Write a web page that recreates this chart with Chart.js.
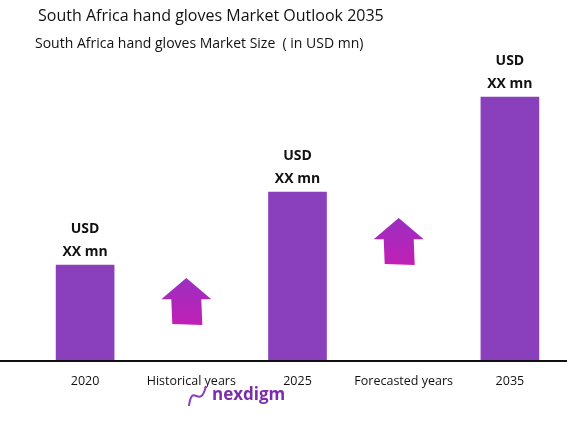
<!DOCTYPE html>
<html><head><meta charset="utf-8">
<script src="https://cdn.jsdelivr.net/npm/chart.js@4/dist/chart.umd.min.js"></script>
<style>
html,body{margin:0;padding:0;background:#fff;}
#wrap{position:relative;width:567px;height:426px;}
.t{position:absolute;font-family:"Open Sans",sans-serif;color:#111;white-space:nowrap;}
</style></head><body>
<div id="wrap">
<div class="t" style="left:38px;top:4px;font-size:16px;">South Africa hand gloves Market Outlook 2035</div>
<div class="t" style="left:35px;top:33px;font-size:14px;">South Africa hand gloves Market Size &nbsp;( in USD mn)</div>
<canvas id="c" width="567" height="426"></canvas>
</div>
<script>
// data
var categories = ['2020', 'Historical years', '2025', 'Forecasted years', '2035'];
var barValues  = [96, null, 169, null, 264];
var barLabels  = ['USD', 'XX mn'];
var arrowFrom  = [null, 36, null, 96, null];
var arrowTo    = [null, 83, null, 143, null];

var overlay = {
    id: 'overlay',
    afterDatasetsDraw: function (chart) {
        var ctx = chart.ctx, x = chart.scales.x, y = chart.scales.y;
        var meta = chart.getDatasetMeta(0);
        ctx.save();
        ctx.fillStyle = '#111';
        ctx.font = 'bold 14px "Open Sans", sans-serif';
        ctx.textAlign = 'center';
        meta.data.forEach(function (bar, i) {
            if (barValues[i] == null) return;
            ctx.fillText(barLabels[0], bar.x, bar.y - 32);
            ctx.fillText(barLabels[1], bar.x, bar.y - 9);
        });
        for (var i = 0; i < categories.length; i++) {
            if (arrowFrom[i] == null) continue;
            var cx = x.getPixelForValue(i) - 5;
            var yb = y.getPixelForValue(arrowFrom[i]);
            var yt = y.getPixelForValue(arrowTo[i]);
            var h = yb - yt, head = h * 0.45;
            var g = ctx.createLinearGradient(0, yt, 0, yb);
            g.addColorStop(0, '#9b2fc0'); g.addColorStop(1, '#c21fb5');
            ctx.fillStyle = g;
            ctx.beginPath();
            ctx.moveTo(cx, yt);
            ctx.lineTo(cx + 25, yt + head);
            ctx.lineTo(cx + 15, yt + head);
            ctx.lineTo(cx + 16, yb);
            ctx.lineTo(cx - 14, yb - 1);
            ctx.lineTo(cx - 15, yt + head);
            ctx.lineTo(cx - 25, yt + head);
            ctx.closePath();
            ctx.fill();
        }
        ctx.strokeStyle = '#111'; ctx.lineWidth = 2;
        ctx.beginPath(); ctx.moveTo(0, y.getPixelForValue(0)); ctx.lineTo(567, y.getPixelForValue(0)); ctx.stroke();
        ctx.fillStyle = '#7a2fa8';
        ctx.font = 'bold 17px "Open Sans", sans-serif';
        ctx.textAlign = 'left';
        ctx.fillText('nexdigm', 212, 400);
        ctx.strokeStyle = '#8a3fbf'; ctx.lineWidth = 2;
        ctx.beginPath(); ctx.moveTo(189, 406); ctx.bezierCurveTo(192, 381, 200, 411, 206, 386); ctx.stroke();
        ctx.restore();
    }
};

new Chart(document.getElementById('c'), {
    type: 'bar',
    data: {
        labels: categories,
        datasets: [{ data: barValues, backgroundColor: '#8a40bd', barThickness: 58, categoryPercentage: 1, barPercentage: 1 }]
    },
    options: {
        responsive: false, animation: false,
        layout: { padding: { left: 32, right: 4, top: 61, bottom: 0 } },
        plugins: { legend: { display: false }, tooltip: { enabled: false } },
        scales: {
            x: { grid: { display: false }, border: { display: false },
                 afterFit: function (s) { s.height = 65; },
                 ticks: { color: '#111', font: { family: 'Open Sans', size: 12.5 }, padding: 5, maxRotation: 0, autoSkip: false } },
            y: { display: false, min: 0, max: 300 }
        }
    },
    plugins: [overlay]
});
</script>
</body></html>
